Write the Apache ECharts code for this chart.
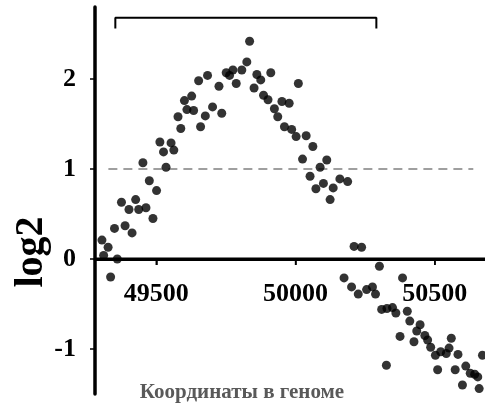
<!DOCTYPE html>
<html>
<head>
<meta charset="utf-8">
<style>
  html, body { margin: 0; padding: 0; background: #fff; }
  #main { width: 485px; height: 410px; }
</style>
<script src="https://cdn.jsdelivr.net/npm/echarts@6.0.0/dist/echarts.min.js"></script>
</head>
<body>
<div id="main"></div>
<script>
// genome coordinate of each probe
var coords = [
    49305, 49311, 49327, 49336, 49350, 49360, 49375, 49388, 49402, 49413,
    49426, 49437, 49452, 49463, 49475, 49488, 49501, 49513, 49526, 49535,
    49553, 49563, 49578, 49588, 49601, 49610, 49627, 49634, 49652, 49659,
    49676, 49684, 49702, 49725, 49735, 49751, 49763, 49775, 49787, 49807,
    49825, 49835, 49851, 49861, 49875, 49885, 49901, 49911, 49924, 49936,
    49951, 49960, 49977, 49986, 50002, 50010, 50025, 50038, 50052, 50062,
    50073, 50088, 50100, 50112, 50124, 50135, 50159, 50174, 50187, 50201,
    50210, 50225, 50237, 50255, 50276, 50287, 50301, 50309, 50326, 50328,
    50348, 50360, 50375, 50384, 50401, 50410, 50425, 50435, 50447, 50464,
    50474, 50485, 50502, 50510, 50521, 50541, 50551, 50559, 50573, 50583,
    50599, 50611, 50627, 50643, 50654, 50659, 50671
];
// log2 ratio for each probe
var log2vals = [
    0.21, 0.04, 0.13, -0.20, 0.34, 0.00, 0.63, 0.37, 0.55, 0.29,
    0.66, 0.55, 1.07, 0.57, 0.87, 0.45, 0.76, 1.30, 1.19, 1.02,
    1.29, 1.21, 1.58, 1.45, 1.76, 1.66, 1.81, 1.65, 1.98, 1.47,
    1.59, 2.04, 1.69, 1.92, 1.62, 2.07, 2.04, 2.10, 1.95, 2.10,
    2.19, 2.42, 1.90, 2.05, 1.99, 1.82, 1.77, 2.07, 1.67, 1.58,
    1.75, 1.47, 1.73, 1.44, 1.36, 1.95, 1.11, 1.37, 0.92, 1.25,
    0.78, 1.02, 0.84, 1.10, 0.66, 0.79, 0.89, -0.21, 0.86, -0.31,
    0.14, -0.39, 0.13, -0.34, -0.31, -0.39, -0.08, -0.56, -1.18, -0.55,
    -0.54, -0.60, -0.86, -0.21, -0.58, -0.69, -0.92, -0.80, -0.73, -0.85,
    -0.90, -0.98, -1.07, -1.23, -1.03, -1.05, -0.99, -0.88, -1.23, -1.06,
    -1.40, -1.19, -1.27, -1.28, -1.31, -1.44, -1.07
];

var xTicks = [49500, 50000, 50500];
var yTicks = [-1, 0, 1, 2];
var xMin = 49280;
var xMax = 50680;
var yMin = -1.5;
var yMax = 2.8;

// threshold line at log2 = 1
var thresholdX = [49328, 50638];
var thresholdY = [1, 1];

// bracket over the amplified region
var bracketX = [49353, 49353, 50290, 50290];
var bracketY = [2.56, 2.68, 2.68, 2.56];

var xTitle = 'Координаты в геноме';
var yTitle = 'log2';

function zip(xs, ys) {
    return xs.map(function (x, i) { return [x, ys[i]]; });
}

var serif = '"Liberation Serif", "Times New Roman", serif';

var gridTop = 7;
var gridBottom = 16;
var plotHeight = 410 - gridTop - gridBottom;
var xTickLen = 6 * (yMax - yMin) / plotHeight;

// backup for the zero axis line and its ticks
var zeroAxisSeries = [{
    type: 'line',
    data: [[xMin, 0], [xMax, 0]],
    symbol: 'none',
    silent: true,
    z: 5,
    lineStyle: { color: '#000', width: 3 }
}].concat(xTicks.map(function (t) {
    return {
        type: 'line',
        data: [[t, 0], [t, -xTickLen]],
        symbol: 'none',
        silent: true,
        z: 5,
        lineStyle: { color: '#000', width: 1.5 }
    };
}));

var titleGraphics = [
    {
        id: 'ytitle',
        type: 'text',
        x: 32,
        y: 252,
        rotation: Math.PI / 2,
        style: {
            text: yTitle,
            fill: '#000',
            font: 'bold 40px ' + serif,
            textAlign: 'center',
            textVerticalAlign: 'middle'
        }
    },
    {
        id: 'xtitle',
        type: 'text',
        x: 242,
        y: 393,
        style: {
            text: xTitle,
            fill: '#595959',
            font: 'bold 21px ' + serif,
            textAlign: 'center',
            textVerticalAlign: 'middle'
        }
    }
];

var chartDom = document.getElementById('main');
var myChart = echarts.init(chartDom, null, { renderer: 'canvas' });
var option;

option = {
    animation: false,
    grid: {
        left: 95,
        right: 0,
        top: gridTop,
        bottom: gridBottom
    },
    xAxis: {
        type: 'value',
        min: xMin,
        max: xMax,
        axisLine: {
            show: true,
            onZero: true,
            lineStyle: { color: '#000', width: 3 }
        },
        axisTick: {
            show: true,
            length: 6,
            customValues: xTicks,
            lineStyle: { color: '#000', width: 1.5 }
        },
        axisLabel: { show: false },
        splitLine: { show: false }
    },
    yAxis: {
        type: 'value',
        min: yMin,
        max: yMax,
        axisLine: {
            show: true,
            onZero: false,
            lineStyle: { color: '#000', width: 3.5 }
        },
        axisTick: {
            show: true,
            length: 5,
            customValues: yTicks,
            lineStyle: { color: '#000', width: 1.5 }
        },
        axisLabel: {
            customValues: yTicks,
            margin: 19,
            color: '#000',
            fontFamily: serif,
            fontWeight: 'bold',
            fontSize: 26
        },
        splitLine: { show: false }
    },
    graphic: titleGraphics,
    series: [
        {
            type: 'line',
            data: zip(thresholdX, thresholdY),
            symbol: 'none',
            silent: true,
            lineStyle: { color: '#808080', width: 1.5, type: [9, 6] }
        },
        {
            type: 'line',
            data: zip(bracketX, bracketY),
            symbol: 'none',
            silent: true,
            lineStyle: { color: '#000', width: 2 }
        }
    ].concat(zeroAxisSeries, [
        {
            type: 'scatter',
            data: zip(coords, log2vals),
            symbolSize: 9,
            z: 6,
            itemStyle: { color: '#000' }
        }
    ])
};

option && myChart.setOption(option);

// x tick labels sit just under the zero line, placed through the chart's own scales
var zeroPx = myChart.convertToPixel({ yAxisIndex: 0 }, 0);
var xLabelGraphics = xTicks.map(function (t, i) {
    return {
        id: 'xlabel' + i,
        type: 'text',
        x: myChart.convertToPixel({ xAxisIndex: 0 }, t),
        y: zeroPx + 35,
        style: {
            text: String(t),
            fill: '#000',
            font: 'bold 26px ' + serif,
            textAlign: 'center',
            textVerticalAlign: 'middle'
        }
    };
});
myChart.setOption({ graphic: titleGraphics.concat(xLabelGraphics) });
</script>
</body>
</html>
